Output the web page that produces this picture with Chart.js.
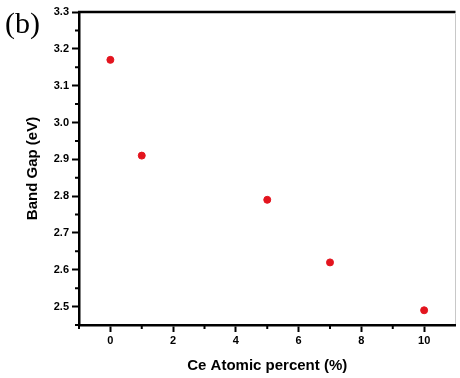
<!DOCTYPE html>
<html>
<head>
<meta charset="utf-8">
<script src="https://cdn.jsdelivr.net/npm/chart.js@4.4.1/dist/chart.umd.min.js"></script>
<style>
  html, body { margin: 0; padding: 0; background: #fff; }
  #wrap { width: 460px; height: 378px; position: relative; }
</style>
</head>
<body>
<div id="wrap"><canvas id="gapChart" width="460" height="378"></canvas></div>
<script>
// Ce content (atomic %) and measured band gap (eV)
const ceContent = [0, 1, 5, 7, 10];
const bandGap = [3.17, 2.91, 2.79, 2.62, 2.49];

const xTicks = [0, 2, 4, 6, 8, 10];
const xMinor = [-1, 1, 3, 5, 7, 9];
const yTicks = [2.5, 2.6, 2.7, 2.8, 2.9, 3.0, 3.1, 3.2, 3.3];
const yMinor = [2.45, 2.55, 2.65, 2.75, 2.85, 2.95, 3.05, 3.15, 3.25];

const tickFont = { family: "Liberation Sans, Arial, sans-serif", size: 11, weight: "bold" };
const titleFont = { family: "Liberation Sans, Arial, sans-serif", size: 15, weight: "bold" };

// frame on top, minor ticks and the panel letter
const extras = {
  id: "extras",
  afterDraw(chart) {
    const { ctx, chartArea: a, scales: { x, y } } = chart;
    ctx.save();
    ctx.strokeStyle = "#000";
    ctx.lineWidth = 2.5;
    ctx.beginPath();
    ctx.moveTo(a.left - 1, a.top);
    ctx.lineTo(a.right, a.top);
    ctx.stroke();

    // faint right edge seen near the border of the picture
    ctx.strokeStyle = "#c8c8c8";
    ctx.lineWidth = 1;
    ctx.beginPath();
    ctx.moveTo(455.5, a.top + 2);
    ctx.lineTo(455.5, a.bottom - 1);
    ctx.stroke();

    ctx.strokeStyle = "#000";
    ctx.lineWidth = 2;
    ctx.beginPath();
    xMinor.forEach(v => {
      const px = x.getPixelForValue(v);
      ctx.moveTo(px, a.bottom);
      ctx.lineTo(px, a.bottom + 4);
    });
    yMinor.forEach(v => {
      const py = y.getPixelForValue(v);
      ctx.moveTo(a.left, py);
      ctx.lineTo(a.left - 4, py);
    });
    ctx.stroke();

    ctx.fillStyle = "#000";
    ctx.font = "30px 'Liberation Serif', 'Times New Roman', serif";
    ctx.textBaseline = "alphabetic";
    ctx.fillText("(b)", 5, 33);
    ctx.restore();
  }
};

new Chart(document.getElementById("gapChart").getContext("2d"), {
  type: "scatter",
  data: {
    datasets: [{
      data: ceContent.map((c, i) => ({ x: c, y: bandGap[i] })),
      backgroundColor: "#e3141e",
      borderColor: "#e3141e",
      pointRadius: 3.5,
      pointHoverRadius: 3.5
    }]
  },
  options: {
    responsive: false,
    animation: false,
    layout: { padding: { left: 24, right: -2, top: 12, bottom: 3 } },
    plugins: { legend: { display: false }, tooltip: { enabled: false } },
    scales: {
      x: {
        type: "linear",
        min: -1,
        max: 11,
        afterBuildTicks: s => { s.ticks = xTicks.map(v => ({ value: v })); },
        afterFit: s => { s.height = 50; },
        grid: { drawOnChartArea: false, drawTicks: true, tickLength: 7, tickColor: "#000", tickWidth: 2 },
        border: { display: true, color: "#000", width: 2.5 },
        ticks: { color: "#000", font: tickFont, padding: 2, maxRotation: 0 },
        title: { display: true, text: "Ce Atomic percent (%)", color: "#000", font: titleFont, padding: { top: 4, bottom: 0 } }
      },
      y: {
        type: "linear",
        min: 2.45,
        max: 3.3,
        afterBuildTicks: s => { s.ticks = yTicks.map(v => ({ value: v })); },
        afterFit: s => { s.width = 55; },
        grid: { drawOnChartArea: false, drawTicks: true, tickLength: 7, tickColor: "#000", tickWidth: 2 },
        border: { display: true, color: "#000", width: 2.5 },
        ticks: { color: "#000", font: tickFont, padding: 3, callback: v => v.toFixed(1) },
        title: { display: true, text: "Band Gap (eV)", color: "#000", font: titleFont, padding: 0 }
      }
    }
  },
  plugins: [extras]
});
</script>
</body>
</html>
